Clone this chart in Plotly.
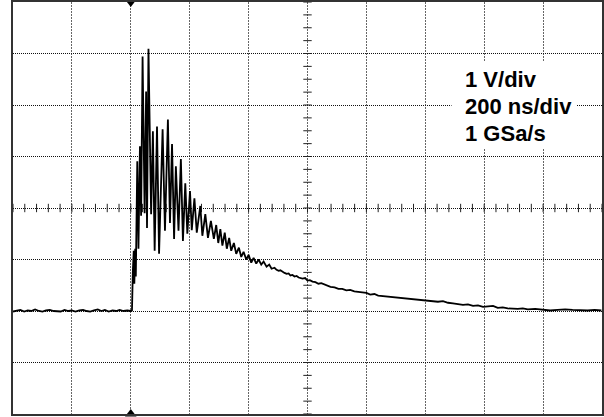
import plotly.graph_objects as go

# Oscilloscope capture: 1 V/div, 200 ns/div, 1 GSa/s
# time in ns (centre of screen = 0), voltage in V (centre line = 0)

baseline_t = [-1000, -988, -975, -962, -950, -938, -925, -912, -900, -888, -875,
              -862, -850, -838, -825, -812, -800, -788, -775, -762, -750, -738,
              -725, -712, -700, -688, -675, -662, -650, -638, -625, -612, -600]
baseline_v = [-2.01, -2.00, -1.98, -2.01, -1.99, -2.00, -1.97, -2.00, -2.01, -1.99, -1.98,
              -2.00, -2.00, -2.01, -1.98, -2.00, -1.99, -2.01, -1.99, -1.98, -2.00, -2.01,
              -1.99, -1.97, -2.00, -1.98, -2.01, -1.99, -2.00, -1.98, -2.00, -1.99, -2.00]

ringing_t = [-596, -593, -590, -588, -585, -583, -578, -574, -569, -565, -560,
             -553, -548, -545, -540, -531, -525, -519, -511, -504, -492, -484,
             -474, -467, -460, -453, -447, -438, -430, -423, -415, -408, -399,
             -393, -384, -376, -364, -357, -347, -338, -328, -318, -310, -303,
             -296, -289, -281, -274, -266, -259, -250, -242, -233, -225, -217,
             -208, -200, -191, -183, -174, -166, -157, -149, -139, -130, -122]
ringing_v = [-1.99, -1.22, -0.83, -1.47, -0.79, -1.33, 0.91, -0.79, 1.20, -0.15, 2.94,
             -0.10, 2.26, -0.39, 3.09, -0.12, 1.49, -0.83, 1.58, -0.89, 1.53, -0.44,
             1.72, -0.29, 1.24, -0.60, 0.81, -0.44, 0.95, -0.64, 0.48, -0.50, 0.33,
             -0.43, 0.19, -0.48, 0.04, -0.54, -0.12, -0.58, -0.25, -0.60, -0.33, -0.68,
             -0.41, -0.73, -0.48, -0.79, -0.58, -0.83, -0.68, -0.89, -0.77, -0.95, -0.85,
             -1.00, -0.91, -1.06, -0.97, -1.08, -1.00, -1.10, -1.04, -1.14, -1.10, -1.18]

tail_t = [-112, -105, -98, -92, -85, -78, -71, -64, -58, -51, -44, -37, -30, -24, -17,
          -8, 0, 8, 17, 27, 37, 47, 58, 68, 78, 92, 105, 118, 132, 145, 159, 172, 186,
          200, 213, 227, 240, 257, 274, 291, 308, 325, 342, 359, 376, 392, 409, 426,
          443, 460, 477, 494, 511, 528, 545, 562, 579, 596, 613, 630, 646, 663, 680,
          697, 714, 731, 748, 773, 799, 824, 849, 875, 900, 925, 951, 975, 998]
tail_v = [-1.16, -1.20, -1.22, -1.21, -1.24, -1.26, -1.28, -1.27, -1.31, -1.30, -1.33,
          -1.32, -1.35, -1.36, -1.37, -1.36, -1.41, -1.40, -1.43, -1.44, -1.47, -1.46,
          -1.49, -1.51, -1.53, -1.54, -1.57, -1.57, -1.60, -1.59, -1.62, -1.63, -1.64,
          -1.65, -1.68, -1.67, -1.70, -1.71, -1.72, -1.72, -1.74, -1.75, -1.76, -1.76,
          -1.78, -1.79, -1.80, -1.80, -1.82, -1.81, -1.84, -1.85, -1.86, -1.88, -1.87,
          -1.90, -1.89, -1.92, -1.91, -1.90, -1.94, -1.93, -1.95, -1.96, -1.96, -1.95,
          -1.97, -1.96, -1.97, -1.99, -1.98, -1.97, -1.98, -1.99, -1.99, -1.98, -1.99]

readout_lines = ["1 V/div", "200 ns/div", "1 GSa/s"]

T_MIN, T_MAX, T_DIV = -1000, 1000, 200
V_MIN, V_MAX, V_DIV = -4, 4, 1
trigger_t = -600

t = baseline_t + ringing_t + tail_t
v = baseline_v + ringing_v + tail_v

fig = go.Figure()

# graticule minor ticks on the centre cross-hair
h_ticks = list(range(T_MIN, T_MAX + 1, T_DIV // 5))
n_v = int((V_MAX - V_MIN) / 0.25)
v_ticks = [V_MIN + 0.25 * k for k in range(n_v + 1)]
fig.add_trace(go.Scatter(
    x=h_ticks, y=[0] * len(h_ticks), mode="markers", hoverinfo="skip",
    marker=dict(symbol="line-ns", size=6, line=dict(width=1, color="#222")),
))
fig.add_trace(go.Scatter(
    x=[0] * len(v_ticks), y=v_ticks, mode="markers", hoverinfo="skip",
    marker=dict(symbol="line-ew", size=6, line=dict(width=1, color="#222")),
))

# waveform
fig.add_trace(go.Scatter(
    x=t, y=v, mode="lines",
    line=dict(color="black", width=1.8),
))

# trigger position markers
fig.add_trace(go.Scatter(
    x=[trigger_t, trigger_t], y=[V_MAX, V_MIN], mode="markers", cliponaxis=False,
    hoverinfo="skip",
    marker=dict(symbol=["triangle-down", "triangle-up"], size=10, color="black"),
))

# readout panel (blanks the graticule behind the text)
fig.add_shape(type="rect", xref="paper", yref="paper",
              x0=0.7445, x1=0.956, y0=0.645, y1=0.855,
              fillcolor="white", line=dict(width=0), layer="above")
for i, txt in enumerate(readout_lines):
    fig.add_annotation(
        xref="paper", yref="paper", x=0.7648, y=0.812 - i * 0.065,
        xanchor="left", yanchor="middle", showarrow=False, text=txt,
        font=dict(family="Liberation Sans", size=22, color="black", weight="bold"),
    )

fig.update_xaxes(
    range=[T_MIN, T_MAX], dtick=T_DIV, tick0=T_MIN,
    showgrid=True, gridcolor="#666", gridwidth=1, griddash="2px,1px",
    zeroline=False, showticklabels=False, ticks="",
    showline=True, linecolor="#333", linewidth=2, mirror=True,
)
fig.update_yaxes(
    range=[V_MIN, V_MAX], dtick=V_DIV, tick0=V_MIN,
    showgrid=True, gridcolor="#111", gridwidth=1, griddash="1px,1px",
    zeroline=False, showticklabels=False, ticks="",
    showline=True, linecolor="#333", linewidth=2, mirror=True,
)

fig.update_layout(
    width=604, height=417,
    margin=dict(l=13, r=0, t=0, b=3),
    paper_bgcolor="white", plot_bgcolor="white",
    showlegend=False,
)

fig.write_html("out.html")
